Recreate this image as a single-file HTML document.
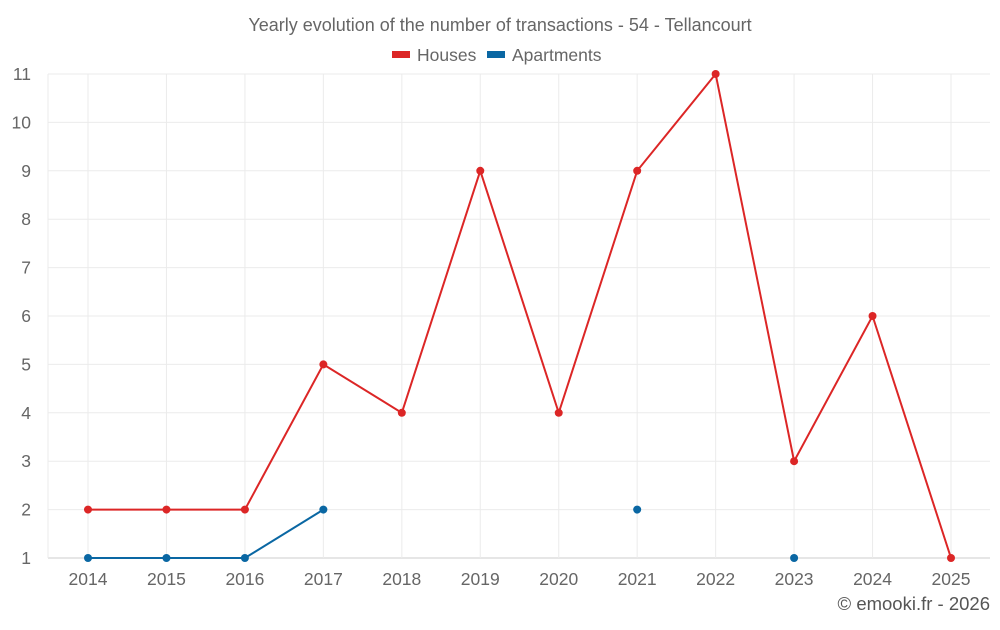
<!DOCTYPE html>
<html><head><meta charset="utf-8"><style>
body{margin:0;background:#fff;font-family:"Liberation Sans",sans-serif;}
svg text{font-family:"Liberation Sans",sans-serif;}
</style></head><body>
<svg width="1000" height="625" xmlns="http://www.w3.org/2000/svg" id="chart">
<text x="500" y="31" text-anchor="middle" font-size="18" fill="#666">Yearly evolution of the number of transactions - 54 - Tellancourt</text>
<g>
<g><rect x="392" y="51" width="18" height="7" fill="#dc2626"/><text x="417" y="61" font-size="17.5" fill="#666">Houses</text></g>
<g><rect x="487" y="51" width="18" height="7" fill="#0a67a3"/><text x="512" y="61" font-size="17.5" fill="#666">Apartments</text></g>
</g>
<g id="grid"></g>
<g id="axes"></g>
<g id="series"></g>
<text x="990" y="610" text-anchor="end" font-size="18.5" fill="#555">© emooki.fr - 2026</text>
</svg>
<script>
const years=["2014","2015","2016","2017","2018","2019","2020","2021","2022","2023","2024","2025"];
const houses=[2,2,2,5,4,9,4,9,11,3,6,1];
const apartments=[1,1,1,2,null,null,null,2,null,1,null,null];
const yTicks=[1,2,3,4,5,6,7,8,9,10,11];
const NS="http://www.w3.org/2000/svg";
const L=48,R=990,T=74,B=558,yMin=1,yMax=11;
const x0=88,x1=951;
function xs(i){return x0+(x1-x0)*i/(years.length-1);}
function ys(v){return B-(v-yMin)/(yMax-yMin)*(B-T);}
function mk(tag,attrs,parent){const e=document.createElementNS(NS,tag);for(const k in attrs)e.setAttribute(k,attrs[k]);parent.appendChild(e);return e;}
const grid=document.getElementById('grid'),axes=document.getElementById('axes'),series=document.getElementById('series');
yTicks.forEach(v=>{
 const l=mk('line',{x1:L,x2:R,y1:ys(v),y2:ys(v),stroke:v===yMin?'#ccc':'#ebebeb','stroke-width':1},grid);
 
 
 const t=mk('text',{x:31,y:ys(v)+6,'text-anchor':'end','font-size':17.5,fill:'#666'},axes);
 t.textContent=v;
 
 
});
years.forEach((y,i)=>{
 const l=mk('line',{x1:xs(i),x2:xs(i),y1:T,y2:B,stroke:'#ebebeb','stroke-width':1},grid);
 
 
 const t=mk('text',{x:xs(i),y:585,'text-anchor':'middle','font-size':17.5,fill:'#666'},axes);
 t.textContent=y;
 
 
});
const la=mk('line',{x1:L,x2:L,y1:T,y2:B,stroke:'#ebebeb'},grid);


function draw(data,color,name){
 let seg=[];const segs=[];
 data.forEach((v,i)=>{if(v==null){if(seg.length)segs.push(seg);seg=[];}else seg.push([xs(i),ys(v)]);});
 if(seg.length)segs.push(seg);
 segs.forEach(s=>{if(s.length>1){const p=mk('polyline',{points:s.map(q=>q.join(',')).join(' '),fill:'none',stroke:color,'stroke-width':2},series);
 
 }});
 data.forEach((v,i)=>{if(v==null)return;const c=mk('circle',{cx:xs(i),cy:ys(v),r:4,fill:color},series);
 
 });
}
draw(houses,'#dc2626','houses');
draw(apartments,'#0a67a3','apartments');
</script>
</body></html>
